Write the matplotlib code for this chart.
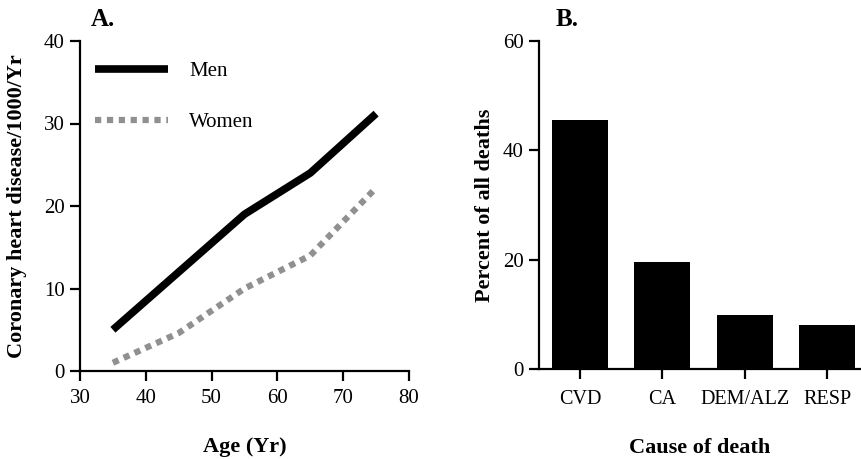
import matplotlib
matplotlib.use("Agg")
import matplotlib.pyplot as plt

plt.rcParams['font.family'] = ['Liberation Serif', 'DejaVu Serif']

ages = [35, 45, 55, 65, 75]
men = [5, 12, 19, 24, 31.2]
women = [1, 4.6, 10, 14, 22.2]

causes = ["CVD", "CA", "DEM/ALZ", "RESP"]
percents = [45.5, 19.6, 9.9, 8.1]

W, H = 861, 459
fig = plt.figure(figsize=(W/100, H/100), dpi=100)

def ax_at(x0, y0, x1, y1):
    return fig.add_axes([x0/W, 1 - y1/H, (x1-x0)/W, (y1-y0)/H])

def style(ax):
    for s in ['top', 'right']:
        ax.spines[s].set_visible(False)
    for s in ['left', 'bottom']:
        ax.spines[s].set_linewidth(1.6)
    ax.tick_params(direction='out', length=7, width=1.6, labelsize=15, pad=4)

LBL = dict(fontsize=16, fontweight='bold')

# Panel A
ax1 = ax_at(80, 41, 409, 371)
style(ax1)
ax1.plot(ages, men, color='black', lw=5.5, solid_capstyle='butt', label='Men')
ax1.plot(ages, women, color='#909090', lw=4.5, linestyle=(0, (1.0, 0.9)),
         dash_capstyle='butt', label='Women')
ax1.set_xlim(30, 80)
ax1.set_ylim(0, 40)
ax1.set_xticks([30, 40, 50, 60, 70, 80])
ax1.set_yticks([0, 10, 20, 30, 40])
ax1.tick_params(axis='x', pad=6)
ax1.set_xlabel('Age (Yr)', **LBL)
ax1.set_ylabel('Coronary heart disease/1000/Yr', **LBL)
ax1.xaxis.set_label_coords(0.5, (371 - 447) / 330)
ax1.xaxis.label.set_va('center')
ax1.yaxis.set_label_coords((17 - 80) / 329, 0.5)
ax1.yaxis.label.set_va('center')
ax1.legend(loc='upper left', bbox_to_anchor=(0.021, 0.963), frameon=False,
           borderaxespad=0, fontsize=15, handlelength=3.5, handletextpad=1.0,
           labelspacing=1.5)
fig.text(91/W, 1 - 20/H, 'A.', fontsize=18, fontweight='bold', va='center', ha='left')

# Panel B
ax2 = ax_at(539, 41, 860, 369)
style(ax2)
ax2.bar(range(len(causes)), percents, width=0.68, color='black')
ax2.set_xlim(-0.5, 3.4)
ax2.set_ylim(0, 60)
ax2.set_yticks([0, 20, 40, 60])
ax2.set_xticks(range(len(causes)))
ax2.set_xticklabels(causes, fontsize=14.5)
ax2.tick_params(axis='x', pad=8)
ax2.set_xlabel('Cause of death', **LBL)
ax2.set_ylabel('Percent of all deaths', **LBL)
ax2.xaxis.set_label_coords(0.5, (369 - 448) / 328)
ax2.xaxis.label.set_va('center')
ax2.yaxis.set_label_coords((485 - 539) / 321, 0.5)
ax2.yaxis.label.set_va('center')
fig.text(556/W, 1 - 20/H, 'B.', fontsize=18, fontweight='bold', va='center', ha='left')

fig.savefig('out.png', dpi=100)
